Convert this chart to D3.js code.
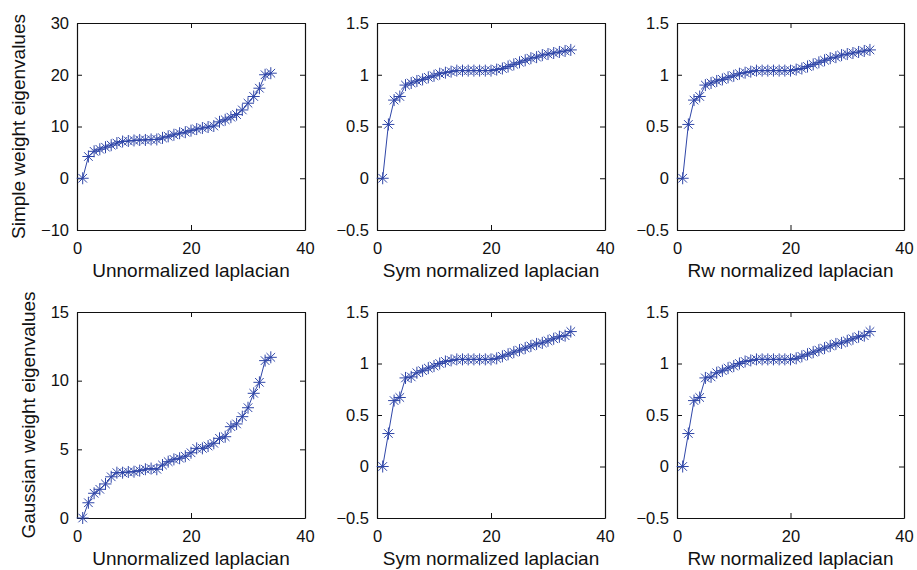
<!DOCTYPE html>
<html>
<head>
	<script src="https://d3js.org/d3.v7.min.js"></script>
	<style>
		body { margin: 0; background: #fff; }
		text { font-family: "Liberation Sans", Arial, sans-serif; fill: #111; }
	</style>
</head>
<body>
<script type="text/javascript">

	// eigenvalue index (1..34)
	var idx = d3.range(1, 35);

	// simple weight, unnormalized laplacian
	var simpleUnnorm = [0, 4.2, 5.2, 5.6, 6.0, 6.4, 6.8, 7.1, 7.2, 7.3, 7.4, 7.4, 7.5, 7.5, 7.8, 8.1,
		8.4, 8.7, 8.9, 9.2, 9.5, 9.7, 9.9, 10.1, 10.9, 11.3, 11.8, 12.3, 13.2, 14.5, 15.8, 17.4, 20.0, 20.3];
	// simple weight, sym normalized laplacian
	var simpleSym = [0, 0.52, 0.755, 0.79, 0.90, 0.92, 0.94, 0.955, 0.975, 0.99, 1.01, 1.02, 1.03, 1.04,
		1.04, 1.04, 1.04, 1.04, 1.04, 1.04, 1.05, 1.06, 1.08, 1.10, 1.12, 1.14, 1.16, 1.17, 1.19, 1.20,
		1.21, 1.22, 1.23, 1.24];
	// simple weight, rw normalized laplacian
	var simpleRw = [0, 0.52, 0.755, 0.79, 0.90, 0.92, 0.94, 0.955, 0.975, 0.99, 1.01, 1.02, 1.03, 1.04,
		1.04, 1.04, 1.04, 1.04, 1.04, 1.04, 1.05, 1.06, 1.08, 1.10, 1.12, 1.14, 1.16, 1.17, 1.19, 1.20,
		1.21, 1.22, 1.23, 1.24];

	// gaussian weight, unnormalized laplacian
	var gaussUnnorm = [0, 1.11, 1.8, 2.09, 2.48, 3.0, 3.3, 3.3, 3.35, 3.37, 3.45, 3.55, 3.6, 3.55, 3.86,
		4.1, 4.27, 4.35, 4.5, 4.75, 5.07, 5.07, 5.24, 5.44, 5.8, 5.92, 6.65, 6.85, 7.38, 8.03, 9.08,
		9.88, 11.46, 11.7];
	// gaussian weight, sym normalized laplacian
	var gaussSym = [0, 0.32, 0.64, 0.67, 0.86, 0.87, 0.91, 0.93, 0.955, 0.975, 1.0, 1.02, 1.03, 1.04,
		1.04, 1.04, 1.04, 1.04, 1.04, 1.04, 1.05, 1.07, 1.09, 1.11, 1.13, 1.15, 1.17, 1.19, 1.20, 1.22,
		1.24, 1.26, 1.27, 1.31];
	// gaussian weight, rw normalized laplacian
	var gaussRw = [0, 0.32, 0.64, 0.67, 0.86, 0.87, 0.91, 0.93, 0.955, 0.975, 1.0, 1.02, 1.03, 1.04,
		1.04, 1.04, 1.04, 1.04, 1.04, 1.04, 1.05, 1.07, 1.09, 1.11, 1.13, 1.15, 1.17, 1.19, 1.20, 1.22,
		1.24, 1.26, 1.27, 1.31];

	var xTicks = [0, 20, 40];
	var yTicksBig = [-10, 0, 10, 20, 30];
	var yTicksGauss = [0, 5, 10, 15];
	var yTicksNorm = [-0.5, 0, 0.5, 1, 1.5];

	var xLabels = ["Unnormalized laplacian", "Sym normalized laplacian", "Rw normalized laplacian"];
	var yLabels = ["Simple weight eigenvalues", "Gaussian weight eigenvalues"];

	var w = 917, h = 570;
	var color = "#2f46a8";

	var svg = d3.select("body").append("svg")
		.attr("width", w)
		.attr("height", h);

	// panel boxes
	var colX = [[77, 305], [377, 605], [677, 904]];
	var rowY = [[23, 230], [312, 518]];
	// y label baseline x for each row
	var yLabX = [25, 35];

	var panels = [
		{ r: 0, c: 0, data: simpleUnnorm, dom: [-10, 30], ticks: yTicksBig },
		{ r: 0, c: 1, data: simpleSym, dom: [-0.5, 1.5], ticks: yTicksNorm },
		{ r: 0, c: 2, data: simpleRw, dom: [-0.5, 1.5], ticks: yTicksNorm },
		{ r: 1, c: 0, data: gaussUnnorm, dom: [0, 15], ticks: yTicksGauss },
		{ r: 1, c: 1, data: gaussSym, dom: [-0.5, 1.5], ticks: yTicksNorm },
		{ r: 1, c: 2, data: gaussRw, dom: [-0.5, 1.5], ticks: yTicksNorm }
	];

	var fmt = function(v) {
		return String(v).replace("-", "\u2212");
	};

	// asterisk marker
	var s = 6, d2 = 4.3;
	var star = "M" + (-s) + ",0L" + s + ",0M0," + (-s) + "L0," + s +
		"M" + (-d2) + "," + (-d2) + "L" + d2 + "," + d2 +
		"M" + (-d2) + "," + d2 + "L" + d2 + "," + (-d2);

	panels.forEach(function(p) {
		var x0 = colX[p.c][0], x1 = colX[p.c][1];
		var y0 = rowY[p.r][0], y1 = rowY[p.r][1];

		var xScale = d3.scaleLinear().domain([0, 40]).range([x0, x1]);
		var yScale = d3.scaleLinear().domain(p.dom).range([y1, y0]);

		var g = svg.append("g");

		// axes with inward ticks, on all four sides
		g.append("g")
			.attr("transform", "translate(0," + y1 + ")")
			.call(d3.axisBottom(xScale).tickValues(xTicks).tickSizeInner(-5).tickSizeOuter(0).tickPadding(12).tickFormat(fmt));
		g.append("g")
			.attr("transform", "translate(0," + y0 + ")")
			.call(d3.axisTop(xScale).tickValues(xTicks).tickSizeInner(-5).tickSizeOuter(0).tickFormat(""));
		g.append("g")
			.attr("transform", "translate(" + x0 + ",0)")
			.call(d3.axisLeft(yScale).tickValues(p.ticks).tickSizeInner(-5).tickSizeOuter(0).tickPadding(8).tickFormat(fmt));
		g.append("g")
			.attr("transform", "translate(" + x1 + ",0)")
			.call(d3.axisRight(yScale).tickValues(p.ticks).tickSizeInner(-5).tickSizeOuter(0).tickFormat(""));

		g.selectAll(".domain").attr("stroke", "#111").attr("stroke-width", 1.2);
		g.selectAll(".tick line").attr("stroke", "#111");
		g.selectAll(".tick text")
			.style("font-family", "'Liberation Sans', Arial, sans-serif")
			.style("font-size", "16.5px")
			.attr("fill", "#111");

		var line = d3.line()
			.x(function(d, i) { return xScale(idx[i]); })
			.y(function(d) { return yScale(d); });

		g.append("path")
			.datum(p.data)
			.attr("fill", "none")
			.attr("stroke", color)
			.attr("stroke-width", 1)
			.attr("d", line);

		g.selectAll(".mark")
			.data(p.data)
			.enter()
			.append("path")
			.attr("class", "mark")
			.attr("transform", function(d, i) {
				return "translate(" + xScale(idx[i]) + "," + yScale(d) + ")";
			})
			.attr("d", star)
			.attr("fill", "none")
			.attr("stroke", color)
			.attr("stroke-width", 1);

		// x label
		g.append("text")
			.attr("x", (x0 + x1) / 2)
			.attr("y", y1 + 47)
			.attr("text-anchor", "middle")
			.style("font-size", "19px")
			.text(xLabels[p.c]);
	});

	// y labels
	yLabels.forEach(function(t, r) {
		svg.append("text")
			.attr("transform", "translate(" + yLabX[r] + "," + ((rowY[r][0] + rowY[r][1]) / 2) + ") rotate(-90)")
			.attr("text-anchor", "middle")
			.style("font-size", "19px")
			.text(t);
	});

</script>
</body>
</html>
